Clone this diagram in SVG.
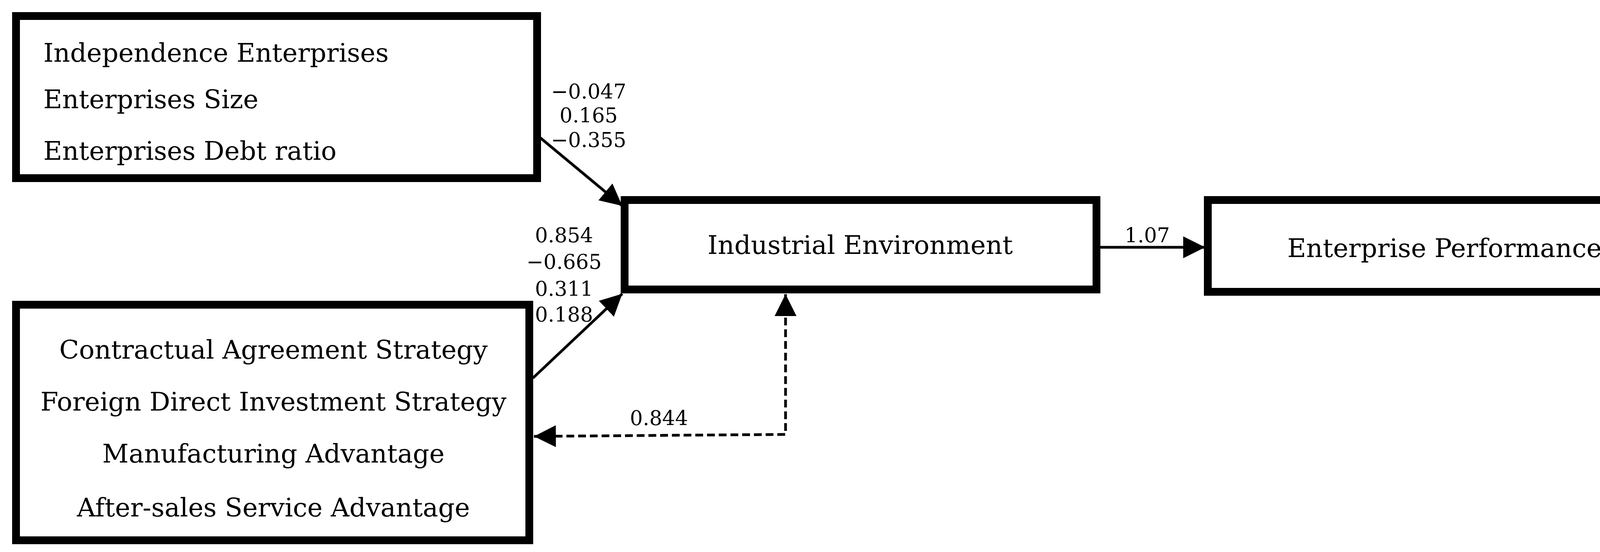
<svg xmlns="http://www.w3.org/2000/svg" width="4337" height="1413" viewBox="0 0 4337 1413">
<style>
.box{fill:#fff;stroke:#000;stroke-width:20}
.t{font-family:"DejaVu Serif","Liberation Serif",serif;font-size:66px;fill:#000}
.l{font-family:"DejaVu Serif","Liberation Serif",serif;font-size:52px;fill:#000;text-anchor:middle}
.c{stroke:#000;stroke-width:7;fill:none}
</style>
<defs>
<marker id="ah" viewBox="0 0 10 10" refX="10" refY="5" markerWidth="8" markerHeight="8" markerUnits="strokeWidth" orient="auto-start-reverse"><path d="M0,0L10,5L0,10z" fill="#000"/></marker>
</defs>
<g id="n1"><rect class="box" x="41" y="41" width="1334" height="415"/>
<text class="t" x="111" y="158">Independence Enterprises</text>
<text class="t" x="111" y="277">Enterprises Size</text>
<text class="t" x="111" y="409">Enterprises Debt ratio</text></g>
<g id="n2"><rect class="box" x="1599" y="512" width="1208" height="229"/>
<text class="t" x="2202" y="650" text-anchor="middle">Industrial Environment</text></g>
<g id="n3"><rect class="box" x="3092" y="512" width="1223" height="235"/>
<text class="t" x="3698" y="658" text-anchor="middle">Enterprise Performance</text></g>
<g id="n4"><rect class="box" x="41" y="780" width="1314" height="603"/>
<g text-anchor="middle"><text class="t" x="700" y="918">Contractual Agreement Strategy</text>
<text class="t" x="700" y="1051">Foreign Direct Investment Strategy</text>
<text class="t" x="700" y="1184">Manufacturing Advantage</text>
<text class="t" x="700" y="1322">After-sales Service Advantage</text></g></g>
<g id="connectors">
<line class="c" x1="1375" y1="346" x2="1593" y2="527" marker-end="url(#ah)"/>
<line class="c" x1="1364" y1="968" x2="1593" y2="752" marker-end="url(#ah)"/>
<line class="c" x1="2807" y1="633" x2="3085" y2="633" marker-end="url(#ah)"/>
<polyline class="c" stroke-dasharray="20,10" points="2011,753 2011,1112 1367,1117" marker-start="url(#ah)" marker-end="url(#ah)"/>
<text class="l" x="1507" y="252">−0.047</text>
<text class="l" x="1507" y="313">0.165</text>
<text class="l" x="1507" y="376">−0.355</text>
<text class="l" x="1444" y="620">0.854</text>
<text class="l" x="1444" y="688">−0.665</text>
<text class="l" x="1444" y="757">0.311</text>
<text class="l" x="1444" y="823">0.188</text>
<text class="l" x="1687" y="1088">0.844</text>
<text class="l" x="2937" y="620">1.07</text>
</g>
</svg>
